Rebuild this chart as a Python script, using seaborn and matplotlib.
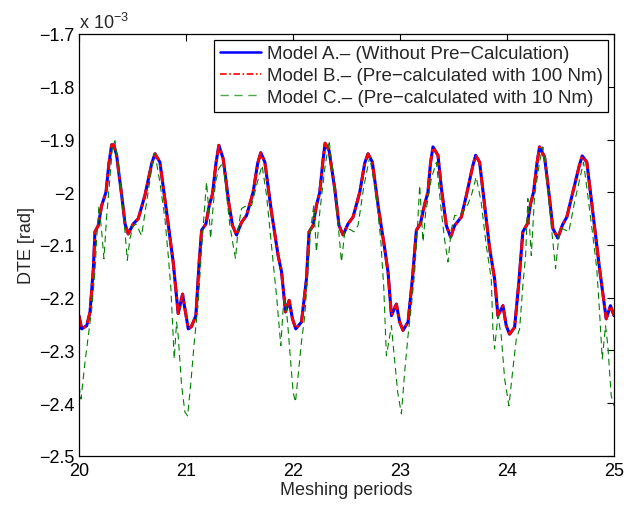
import matplotlib
matplotlib.use("Agg")
import matplotlib.pyplot as plt
import seaborn as sns
import pandas as pd
from matplotlib.ticker import FixedLocator, FuncFormatter

# ---- data (DTE in units of 1e-3 rad) ----
model_a_x = [20.000, 20.025, 20.072, 20.103, 20.134, 20.149, 20.180, 20.212, 20.252, 20.280,
             20.305, 20.325, 20.352, 20.370, 20.399, 20.430, 20.460, 20.507, 20.554, 20.616,
             20.680, 20.710, 20.756, 20.819, 20.880, 20.927, 20.968, 20.990, 21.021, 21.050,
             21.092, 21.123, 21.146, 21.186, 21.217, 21.248, 21.280, 21.307, 21.347, 21.403,
             21.435, 21.472, 21.519, 21.566, 21.627, 21.670, 21.699, 21.737, 21.799, 21.861,
             21.893, 21.930, 21.964, 21.995, 22.026, 22.079, 22.126, 22.150, 22.188, 22.219,
             22.250, 22.280, 22.300, 22.337, 22.390, 22.430, 22.468, 22.514, 22.561, 22.624,
             22.670, 22.701, 22.742, 22.795, 22.857, 22.888, 22.920, 22.966, 22.997, 23.028,
             23.075, 23.116, 23.153, 23.190, 23.231, 23.261, 23.285, 23.308, 23.355, 23.387,
             23.433, 23.473, 23.511, 23.573, 23.620, 23.680, 23.707, 23.744, 23.791, 23.838,
             23.884, 23.915, 23.962, 23.993, 24.024, 24.071, 24.111, 24.148, 24.190, 24.220,
             24.248, 24.280, 24.304, 24.351, 24.391, 24.429, 24.475, 24.516, 24.559, 24.615,
             24.675, 24.703, 24.746, 24.802, 24.865, 24.927, 24.967, 25.000]
model_a_y = [-2.234, -2.259, -2.253, -2.227, -2.145, -2.075, -2.063, -2.025, -2.000, -1.945,
             -1.910, -1.910, -1.930, -1.960, -2.006, -2.060, -2.079, -2.060, -2.050, -2.006,
             -1.945, -1.927, -1.943, -2.038, -2.132, -2.230, -2.193, -2.221, -2.259, -2.255,
             -2.234, -2.132, -2.072, -2.060, -2.025, -2.003, -1.945, -1.911, -1.936, -2.025,
             -2.063, -2.081, -2.057, -2.044, -2.000, -1.945, -1.925, -1.943, -2.038, -2.120,
             -2.151, -2.227, -2.205, -2.240, -2.259, -2.246, -2.164, -2.075, -2.063, -2.025,
             -2.000, -1.940, -1.907, -1.921, -1.993, -2.063, -2.081, -2.060, -2.047, -2.000,
             -1.945, -1.927, -1.943, -2.025, -2.107, -2.151, -2.234, -2.212, -2.246, -2.262,
             -2.246, -2.164, -2.072, -2.060, -2.022, -2.000, -1.945, -1.914, -1.930, -1.993,
             -2.063, -2.085, -2.063, -2.047, -2.006, -1.950, -1.930, -1.943, -2.025, -2.107,
             -2.164, -2.234, -2.215, -2.253, -2.269, -2.256, -2.170, -2.075, -2.060, -2.022,
             -2.000, -1.945, -1.914, -1.933, -2.000, -2.069, -2.087, -2.063, -2.047, -2.000,
             -1.950, -1.931, -1.943, -2.038, -2.145, -2.240, -2.215, -2.234]

# Model B overlays Model A almost exactly
model_b_x = list(model_a_x)
model_b_y = list(model_a_y)

model_c_x = [20.000, 20.019, 20.056, 20.087, 20.119, 20.149, 20.165, 20.187, 20.212, 20.233,
             20.259, 20.289, 20.311, 20.336, 20.367, 20.399, 20.430, 20.451, 20.476, 20.504,
             20.532, 20.585, 20.632, 20.679, 20.710, 20.756, 20.803, 20.834, 20.859, 20.890,
             20.912, 20.927, 20.959, 20.990, 21.015, 21.046, 21.077, 21.114, 21.146, 21.170,
             21.192, 21.214, 21.230, 21.254, 21.276, 21.307, 21.347, 21.379, 21.410, 21.441,
             21.463, 21.487, 21.519, 21.566, 21.613, 21.659, 21.711, 21.753, 21.783, 21.814,
             21.846, 21.867, 21.886, 21.908, 21.930, 21.954, 21.979, 22.001, 22.023, 22.048,
             22.079, 22.110, 22.141, 22.166, 22.194, 22.219, 22.250, 22.297, 22.337, 22.390,
             22.453, 22.484, 22.530, 22.568, 22.608, 22.661, 22.717, 22.773, 22.820, 22.848,
             22.873, 22.920, 22.941, 22.979, 23.013, 23.044, 23.075, 23.109, 23.137, 23.165,
             23.184, 23.215, 23.240, 23.293, 23.340, 23.387, 23.417, 23.448, 23.480, 23.511,
             23.557, 23.620, 23.667, 23.712, 23.759, 23.806, 23.853, 23.868, 23.884, 23.915,
             23.946, 23.978, 24.018, 24.055, 24.087, 24.118, 24.148, 24.174, 24.195, 24.227,
             24.258, 24.304, 24.335, 24.372, 24.413, 24.454, 24.492, 24.529, 24.578, 24.631,
             24.715, 24.755, 24.802, 24.839, 24.865, 24.890, 24.921, 24.942, 24.974, 25.000]
model_c_y = [-2.367, -2.392, -2.322, -2.272, -2.221, -2.151, -2.088, -2.025, -2.075, -2.126,
             -2.044, -1.974, -1.917, -1.902, -1.949, -2.006, -2.075, -2.129, -2.088, -2.065,
             -2.060, -2.082, -2.019, -1.955, -1.927, -1.981, -2.050, -2.120, -2.183, -2.316,
             -2.246, -2.272, -2.367, -2.417, -2.424, -2.360, -2.284, -2.210, -2.107, -2.038,
             -1.981, -2.038, -2.088, -2.025, -1.981, -1.955, -1.943, -2.006, -2.063, -2.101,
             -2.126, -2.069, -2.031, -2.025, -2.025, -1.987, -1.949, -2.006, -2.069, -2.132,
             -2.196, -2.246, -2.291, -2.221, -2.202, -2.259, -2.322, -2.379, -2.398, -2.348,
             -2.284, -2.234, -2.145, -2.069, -2.025, -2.113, -2.038, -1.955, -1.902, -1.990,
             -2.132, -2.075, -2.070, -2.075, -2.063, -1.990, -1.933, -2.000, -2.090, -2.180,
             -2.310, -2.253, -2.300, -2.380, -2.420, -2.340, -2.272, -2.210, -2.151, -2.060,
             -1.987, -2.094, -2.038, -1.974, -1.943, -2.038, -2.090, -2.132, -2.070, -2.044,
             -2.044, -2.030, -2.006, -1.971, -2.019, -2.101, -2.164, -2.259, -2.297, -2.234,
             -2.272, -2.354, -2.405, -2.335, -2.278, -2.259, -2.177, -2.120, -2.012, -2.120,
             -2.006, -1.943, -1.914, -1.974, -2.063, -2.145, -2.069, -2.070, -2.075, -2.019,
             -1.943, -2.006, -2.082, -2.145, -2.227, -2.316, -2.253, -2.290, -2.386, -2.405]

labels = ["Model A.\u2013 (Without Pre\u2212Calculation)",
          "Model B.\u2013 (Pre\u2212calculated with 100 Nm)",
          "Model C.\u2013 (Pre\u2212calculated with 10 Nm)"]
x_ticks = [20, 21, 22, 23, 24, 25]
y_ticks = [-2.5, -2.4, -2.3, -2.2, -2.1, -2.0, -1.9, -1.8, -1.7]

# ---- style ----
sns.set_style("white")
plt.rcParams['font.family'] = ['Liberation Sans', 'DejaVu Sans']
plt.rcParams['mathtext.default'] = 'regular'
plt.rcParams['font.size'] = 13

fig = plt.figure(figsize=(6.24, 5.06), dpi=100)
ax = fig.add_axes([79/624, 1-457/506, (614-79)/624, (457-35)/506])

df_a = pd.DataFrame({"x": model_a_x, "y": model_a_y})
df_b = pd.DataFrame({"x": model_b_x, "y": model_b_y})
df_c = pd.DataFrame({"x": model_c_x, "y": model_c_y})

sns.lineplot(data=df_a, x="x", y="y", ax=ax, color=(0, 0, 1), lw=2.2,
             sort=False, estimator=None, label=labels[0])
sns.lineplot(data=df_b, x="x", y="y", ax=ax, color=(1, 0, 0), lw=2.0,
             linestyle=(0, (4, 1.5, 1, 1.5)), sort=False, estimator=None, label=labels[1])
sns.lineplot(data=df_c, x="x", y="y", ax=ax, color=(0, 0.5, 0), lw=0.8,
             linestyle=(0, (6, 4)), sort=False, estimator=None, label=labels[2])

ax.set_xlim(20, 25)
ax.set_ylim(-2.5, -1.7)
ax.xaxis.set_major_locator(FixedLocator(x_ticks))
ax.yaxis.set_major_locator(FixedLocator(y_ticks))
fmt = FuncFormatter(lambda v, p: ("%g" % round(v, 3)).replace("-", "\u2212"))
ax.xaxis.set_major_formatter(fmt)
ax.yaxis.set_major_formatter(fmt)
ax.tick_params(direction="in", length=5, width=0.8, top=True, right=True,
               labelsize=13, colors="black")
ax.tick_params(axis="x", pad=4)
ax.tick_params(axis="y", pad=3)
for s in ax.spines.values():
    s.set_visible(True)
    s.set_color("black")
    s.set_linewidth(0.9)

ax.set_xlabel("Meshing periods", fontsize=13, labelpad=2)
ax.set_ylabel("DTE [rad]", fontsize=13, labelpad=3)
ax.text(0.0, 1.005, r"x 10$^{-3}$", transform=ax.transAxes,
        ha="left", va="bottom", fontsize=13)

leg = ax.legend(loc="upper right", fontsize=13.5, frameon=True, fancybox=False,
                borderaxespad=0.3, handlelength=2.2, handletextpad=0.3,
                labelspacing=0.25, borderpad=0.3)
leg.get_frame().set_edgecolor("black")
leg.get_frame().set_linewidth(0.9)
leg.get_frame().set_alpha(1)
leg_lines = leg.get_lines()
leg_lines[0].set_linewidth(1.8)
leg_lines[1].set_linewidth(1.2)
leg_lines[2].set_linewidth(1.0)
leg_lines[2].set_alpha(0.7)

fig.savefig("out.png", dpi=100)
